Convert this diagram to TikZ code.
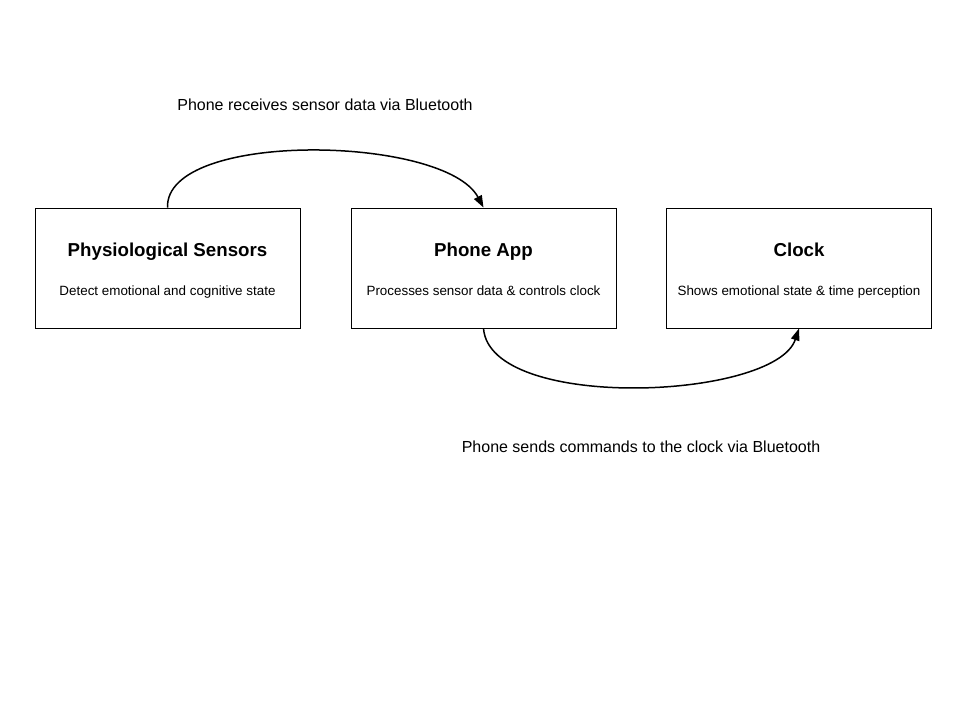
\documentclass[tikz,border=0pt]{standalone}
\usepackage{fontspec}
\setmainfont{Liberation Sans}
\usetikzlibrary{arrows.meta}
\begin{document}
\begin{tikzpicture}[x=1pt,y=-1pt,
  box/.style={draw,line width=0.9pt,minimum width=265pt,minimum height=120pt,inner sep=0pt},
  conn/.style={line width=1.5pt,-{Triangle[length=12pt,width=8.5pt]}},
  ttl/.style={anchor=base,inner sep=0pt,font=\bfseries\fontsize{18.7}{22}\selectfont},
  sub/.style={anchor=base,inner sep=0pt,font=\fontsize{13.4}{16}\selectfont},
  lbl/.style={anchor=base,inner sep=0pt,font=\fontsize{16}{19}\selectfont}]
\useasboundingbox (0,0) rectangle (960,720);
\node[box] (a) at (167.5,268) {};
\node[box] (b) at (483.5,268) {};
\node[box] (c) at (799,268) {};
\node[ttl] (at) at (167.5,256) {Physiological Sensors};
\node[sub] (as) at (167.5,295) {Detect emotional and cognitive state};
\node[ttl] (bt) at (483.5,256) {Phone App};
\node[sub] (bs) at (483.5,295) {Processes sensor data \& controls clock};
\node[ttl] (ct) at (799,256) {Clock};
\node[sub] (cs) at (799,295) {Shows emotional state \& time perception};
\node[lbl] (l1) at (325,110) {Phone receives sensor data via Bluetooth};
\node[lbl] (l2) at (641,452) {Phone sends commands to the clock via Bluetooth};
\draw[conn] (a.north) .. controls (165,130) and (445,135) .. (b.north);
\draw[conn] (b.south) .. controls (490,412) and (775,400) .. (c.south);
\end{tikzpicture}
\end{document}
